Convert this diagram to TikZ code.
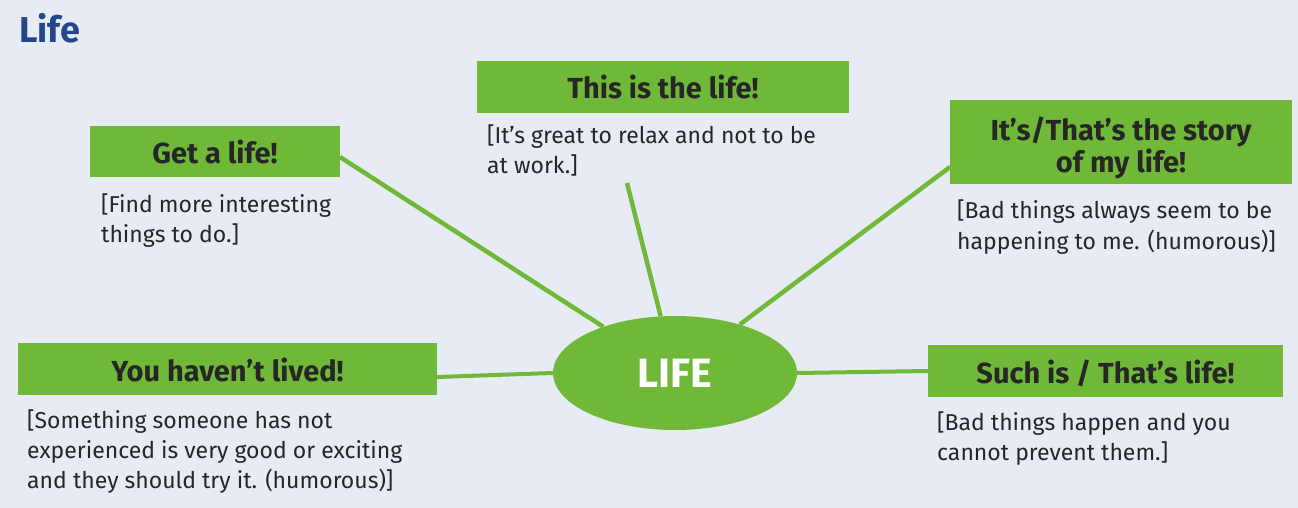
\documentclass[tikz,border=0pt]{standalone}
\usepackage{fontspec}
\setmainfont{Fira Sans}
\usetikzlibrary{shapes.geometric}
\definecolor{pagebg}{RGB}{231,235,244}
\definecolor{leafgreen}{RGB}{112,185,56}
\definecolor{inkdark}{RGB}{38,38,38}
\definecolor{titleblue}{RGB}{33,72,138}
\begin{document}
\begin{tikzpicture}[x=1pt,y=-1pt,
  greenbox/.style={rectangle, fill=leafgreen, inner sep=0pt, text=inkdark,
    font=\fontsize{29}{32}\selectfont\bfseries},
  oneline/.style={text height=24pt, text depth=0pt},
  gloss/.style={anchor=base west, align=left, inner sep=0pt, text=inkdark,
    font=\fontsize{23}{30}\selectfont},
  link/.style={draw=leafgreen, line width=4.5pt}]
  % page and bounding box
  \fill[pagebg] (0,0) rectangle (1298,508);
  \useasboundingbox (0,0) rectangle (1298,508);

  % heading
  \node[anchor=base west, inner sep=0pt, text=titleblue,
        font=\fontsize{36}{40}\selectfont\bfseries] (head) at (19,43) {Life};

  % centre
  \node[ellipse, fill=leafgreen, minimum width=244pt, minimum height=114pt,
        inner sep=0pt, text=white, font=\fontsize{41}{44}\selectfont\bfseries]
        (life) at (675,373) {LIFE};

  % phrase boxes
  \node[greenbox, oneline, minimum width=250pt, minimum height=51pt]
        (get) at (215,151.5) {Get a life!};
  \node[greenbox, oneline, minimum width=372pt, minimum height=52pt]
        (this) at (663,87) {This is the life!};
  \node[greenbox, minimum width=342pt, minimum height=84pt, align=center,
        text height=60pt, text depth=0pt]
        (story) at (1121,142) {It’s/That’s the story\\of my life!};
  \node[greenbox, oneline, minimum width=419pt, minimum height=52pt]
        (lived) at (227.5,369) {You haven’t lived!};
  \node[greenbox, oneline, minimum width=355pt, minimum height=52pt]
        (such) at (1105.5,371) {Such is / That’s life!};

  % glosses (placed by the baseline of their last line)
  \node[gloss] (getg) at (101,242) {[Find more interesting\\things to do.]};
  \node[gloss] (thisg) at (487,173) {[It’s great to relax and not to be\\at work.]};
  \node[gloss, font=\fontsize{23}{31}\selectfont] (storyg) at (957,249)
        {[Bad things always seem to be\\happening to me. (humorous)]};
  \node[gloss] (livedg) at (27,488) {[Something someone has not\\experienced is very good or exciting\\and they should try it. (humorous)]};
  \node[gloss] (suchg) at (937,460) {[Bad things happen and you\\cannot prevent them.]};

  % connector ends
  \coordinate (getfoot) at (340,157);
  \coordinate (thisfoot) at (627,183);
  \coordinate (storyfoot) at (950,167);
  \coordinate (livedfoot) at (437,377);

  % connectors
  \draw[link] (getfoot) -- (life);
  \draw[link] (thisfoot) -- (life);
  \draw[link] (storyfoot) -- (life);
  \draw[link, line width=4pt] (livedfoot) -- (life.west);
  \draw[link, line width=4pt] (such.west) -- (life.east);
\end{tikzpicture}
\end{document}
